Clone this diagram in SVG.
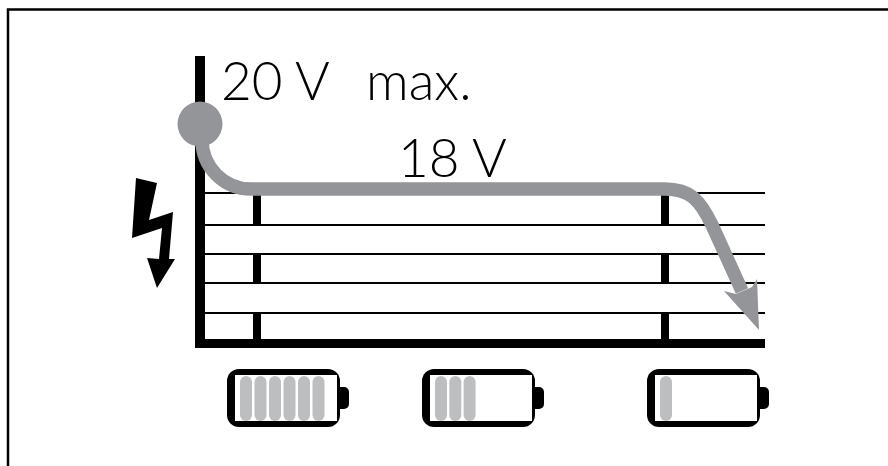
<svg xmlns="http://www.w3.org/2000/svg" width="888" height="466" viewBox="0 0 888 466">
<style>
.lbl{font-family:Lato,"Open Sans","Liberation Sans",sans-serif;font-weight:300;font-size:53px;fill:#000}
.grid{stroke:#000;stroke-width:2;fill:none}
.curve{stroke:#939598;stroke-width:13.5;fill:none}
.body{fill:#000}
.inner{fill:#fff}
.cell{fill:#bcbec0}
</style>
<defs>
<g id="batt">
<rect class="body" x="0" y="0" width="113" height="58" rx="12"/>
<path class="body" d="M112,18 H117 A5,5 0 0 1 122,23 V35 A5,5 0 0 1 117,40 H112 Z"/>
<rect class="inner" x="8" y="6" width="102" height="46"/>
</g>
<rect id="cell" class="cell" x="0" y="7" width="12" height="45" rx="6"/>
</defs>
<rect x="8" y="9.5" width="900" height="480" fill="none" stroke="#000" stroke-width="2.5"/>
<g id="chart">
<g id="grid-lines">
<line class="grid" x1="205" y1="193" x2="765" y2="193"/>
<line class="grid" x1="205" y1="225" x2="765" y2="225"/>
<line class="grid" x1="205" y1="254" x2="765" y2="254"/>
<line class="grid" x1="205" y1="283" x2="765" y2="283"/>
<line class="grid" x1="205" y1="313" x2="765" y2="313"/>
</g>
<g id="ticks" fill="#000">
<rect x="253" y="193" width="8" height="32"/>
<rect x="253" y="254" width="8" height="29"/>
<rect x="253" y="313" width="8" height="30"/>
<rect x="661" y="193" width="8" height="32"/>
<rect x="661" y="254" width="8" height="29"/>
<rect x="661" y="313" width="8" height="30"/>
</g>
<g id="axes" fill="#000">
<rect x="195" y="56" width="10" height="292"/>
<rect x="195" y="339" width="570" height="9"/>
</g>
</g>
<g id="connectors">
<path class="curve" d="M202,128 V140 A49,49 0 0 0 251,189 H665 C690,189 700,200 712,225 L742,291"/>
<polygon fill="#939598" points="759,330 724,291 736,294 752,287 757,279"/>
</g>
<g id="max-point">
<circle cx="200" cy="124" r="22.5" fill="#939598"/>
</g>
<g id="bolt">
<polygon fill="#000" points="136,178 157,183 149,220 173,212 169,259 175,259 157,288 147,258 159,259 162,228 132,238"/>
</g>
<g id="label-20v">
<text class="lbl" x="221" y="100"><tspan x="221">20 V</tspan> <tspan x="366">max.</tspan></text>
</g>
<g id="label-18v">
<text class="lbl" x="398" y="177">18 V</text>
</g>
<g id="battery-full" transform="translate(227,369)">
<use href="#batt"/>
<use href="#cell" x="13"/>
<use href="#cell" x="27.5"/>
<use href="#cell" x="42"/>
<use href="#cell" x="56.5"/>
<use href="#cell" x="71"/>
<use href="#cell" x="85.5"/>
</g>
<g id="battery-half" transform="translate(422,369)">
<use href="#batt"/>
<use href="#cell" x="13"/>
<use href="#cell" x="27.3"/>
<use href="#cell" x="41.6"/>
</g>
<g id="battery-low" transform="translate(647,369)">
<use href="#batt"/>
<use href="#cell" x="13"/>
</g>
</svg>
